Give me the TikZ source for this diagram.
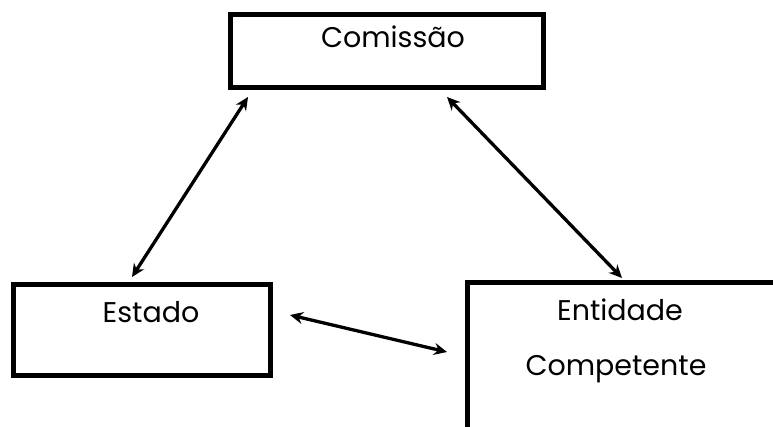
\documentclass[tikz,border=0pt]{standalone}
\usepackage{fontspec}
\setmainfont{Poppins}
\usetikzlibrary{arrows.meta}
\begin{document}
\begin{tikzpicture}[x=1pt,y=-1pt,
  boxframe/.style={draw=black, line width=5pt, inner sep=0pt, outer sep=0pt, rectangle},
  boxline/.style={draw=black, line width=5pt, line cap=rect},
  lbl/.style={font=\fontsize{28.5}{32}\selectfont, anchor=base, inner sep=0pt},
  conn/.style={line width=3.3pt, {Stealth[length=13pt,width=12pt]}-{Stealth[length=13pt,width=12pt]}}]
\useasboundingbox (0,0) rectangle (773,427);
% Boxes
\node[boxframe, minimum width=313pt, minimum height=73pt] (com) at (386.5,51.5) {};
\node[boxframe, minimum width=257pt, minimum height=90pt] (est) at (141.5,330) {};
\node[inner sep=0pt, outer sep=0pt, minimum width=306pt, minimum height=144pt] (ent) at (620,355) {};
\draw[boxline] (ent.south west) -- (ent.north west) -- (ent.north east);
% Labels
\node[lbl] (tcom) at (393,48) {Comissão};
\node[lbl] (test) at (151,323) {Estado};
\node[lbl] (tent1) at (620,320) {Entidade};
\node[lbl] (tent2) at (616,375) {Competente};
% Connectors
\draw[conn] ([xshift=18pt,yshift=-9pt]com.south west) -- ([xshift=119pt,yshift=8pt]est.north west);
\draw[conn] ([xshift=-96pt,yshift=-9pt]com.south east) -- ([xshift=155pt,yshift=5pt]ent.north west);
\draw[conn] ([xshift=20pt,yshift=-30pt]est.north east) -- ([xshift=-20pt,yshift=-69pt]ent.north west);
\end{tikzpicture}
\end{document}
